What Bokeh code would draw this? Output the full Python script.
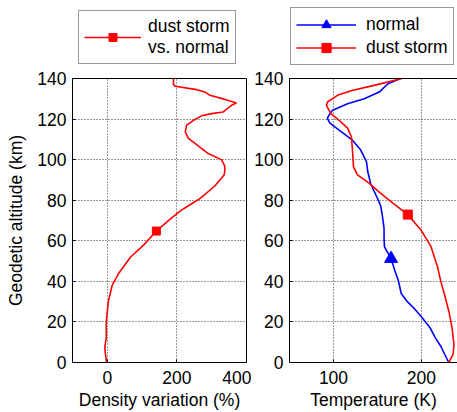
from bokeh.plotting import figure
from bokeh.models import Range1d, Legend, LegendItem, LinearAxis, FixedTicker, Label
from bokeh.layouts import row, column
from bokeh.embed import file_html
from bokeh.resources import INLINE

# ---------------- data ----------------
# left panel: density variation (dust storm vs. normal), % vs altitude (km)
alt_dv = [0, 5, 8, 12, 20, 30, 38, 44, 52, 58, 64.8, 71, 75, 78, 81, 87, 92.5, 95, 97, 100,
          103, 108, 110.5, 113.7, 117, 119.4, 121.6, 122.7, 123.5, 126.8, 127.9, 129.7,
          131.7, 133.3, 134.5, 136.2, 137, 140]
dens_var = [-2, -6, -7, -3, -3, 3, 14, 33, 67, 105, 141, 183, 212, 240, 268, 309, 336, 338, 337, 328,
            290, 252, 233, 224, 228, 248, 271, 300, 333, 357, 371, 338,
            295, 281, 257, 195, 190, 190]
dv_marker_alt = [64.8]
dv_marker_val = [141]

# right panel: temperature (K) vs altitude (km)
alt_normal = [0, 8, 12, 17, 23, 27, 30, 34, 40, 45, 51.2, 57, 61, 66, 72, 77, 80, 88, 94, 99,
              104.7, 109.6, 114.5, 118, 120.3, 122, 124.4, 127.6, 130, 133.3, 137.4, 140]
temp_normal = [231, 222, 216, 210, 199, 191, 184, 177, 174, 170, 165.5, 158, 157.5, 157.5, 155.7,
               153.8, 151, 142.4, 139, 137.5, 131, 121.6, 106.4, 96, 93, 95, 99, 116, 135, 152, 162, 176]
normal_marker_alt = [51.2]
normal_marker_temp = [165.5]

alt_dust = [0, 4, 8.5, 16.6, 24.8, 33, 40, 47.6, 57.4, 65.6, 72.9, 79.4, 84, 88.4, 92.5, 96.6,
            104.7, 111.3, 115.5, 119.4, 122.7, 126.8, 128.4, 131.7, 134, 136.6, 140]
temp_dust = [231, 236, 237, 235, 231.4, 226.5, 222, 218, 210.6, 199, 184.5, 165, 152, 140.5, 127.3,
             122.7, 121.6, 120.4, 116, 106.4, 97, 92, 93.2, 104.5, 120, 146, 178]
dust_marker_alt = [72.9]
dust_marker_temp = [184.5]

alt_ticks = [0, 20, 40, 60, 80, 100, 120, 140]
dv_ticks = [0, 200, 400]
temp_ticks = [100, 200]

legend_left_label = "dust storm\nvs. normal"
legend_right_labels = ["normal", "dust storm"]

# ---------------- layout constants ----------------
FONT = "Liberation Sans"
FS = "17.5px"
HL = 66            # height of the legend strip
H = 412 - HL       # height of the plot row
W1, W2 = 251, 206
B1L, B1R = 72, 5
B2L, B2R = 38, 0
BT, BB = 12, 48
DV_RANGE = (-100, 400)
T_RANGE = (50, 241)
ALT_RANGE = (0, 140)
TICK_STANDOFF = 8


def style_axis(ax, ticks):
    ax.ticker = FixedTicker(ticks=ticks)
    ax.axis_line_color = "black"
    ax.axis_line_width = 1
    ax.major_tick_in = 3
    ax.major_tick_out = 0
    ax.minor_tick_in = 0
    ax.minor_tick_out = 0
    ax.major_tick_line_color = "black"
    ax.major_label_text_font = FONT
    ax.major_label_text_font_size = FS
    ax.major_label_text_color = "black"
    ax.major_label_standoff = 6
    ax.axis_label_text_font = FONT
    ax.axis_label_text_font_size = FS
    ax.axis_label_text_font_style = "normal"
    ax.axis_label_text_color = "black"


def style_grid(p):
    for g in (p.xgrid[0], p.ygrid[0]):
        g.grid_line_color = "#333333"
        g.grid_line_dash = "1 2"
        g.grid_line_width = 1


def style_legend(leg):
    leg.label_text_font = FONT
    leg.label_text_font_size = FS
    leg.label_text_color = "black"
    leg.border_line_color = "#333333"
    leg.border_line_width = 1
    leg.background_fill_color = "white"
    leg.background_fill_alpha = 1
    leg.margin = 0
    leg.spacing = 0


def legend_strip(width):
    # empty strip whose ranges exclude all data: only its legend is visible
    f = figure(width=width, height=HL, x_range=Range1d(-1e4, -9e3), y_range=Range1d(-1e4, -9e3),
               x_axis_type=None, y_axis_type=None, output_backend="svg", toolbar_location=None,
               min_border=0, min_border_left=0, min_border_right=0, min_border_top=0,
               min_border_bottom=0)
    f.outline_line_color = None
    f.xgrid.visible = False
    f.ygrid.visible = False
    return f


# ---------------- left panel ----------------
p1 = figure(width=W1, height=H, x_range=Range1d(*DV_RANGE), y_range=Range1d(*ALT_RANGE),
            output_backend="svg", toolbar_location=None,
            min_border_left=B1L, min_border_right=B1R, min_border_top=BT, min_border_bottom=BB)
p1.outline_line_color = "black"
p1.outline_line_width = 1
p1.background_fill_color = "white"
style_axis(p1.xaxis[0], dv_ticks)
style_axis(p1.yaxis[0], alt_ticks)
p1.xaxis[0].major_label_standoff = TICK_STANDOFF
p1.xaxis[0].axis_label = "Density variation (%)"
p1.yaxis[0].axis_label = "Geodetic altitude (km)"
p1.xaxis[0].axis_label_standoff = 3
p1.yaxis[0].axis_label_standoff = 8
style_grid(p1)

p1.line(dens_var, alt_dv, line_color="#ff0000", line_width=1.6)
p1.scatter(dv_marker_val, dv_marker_alt, marker="square", size=8,
           fill_color="#ff0000", line_color="#ff0000")

# legend strip above the left panel (same series, outside the strip's visible ranges)
s1 = legend_strip(W1)
k1l = s1.line(dens_var, alt_dv, line_color="#ff0000", line_width=1.6)
k1m = s1.scatter(dv_marker_val, dv_marker_alt, marker="square", size=8,
                 fill_color="#ff0000", line_color="#ff0000")
leg1 = Legend(items=[LegendItem(label=legend_left_label, renderers=[k1l, k1m])],
              location=(78, 2))
style_legend(leg1)
leg1.glyph_width = 57
leg1.glyph_height = 20
leg1.label_standoff = 7
leg1.padding = 5
s1.add_layout(leg1)

# ---------------- right panel ----------------
p2 = figure(width=W2, height=H, x_range=Range1d(*T_RANGE), y_range=Range1d(*ALT_RANGE),
            output_backend="svg", toolbar_location=None,
            min_border_left=B2L, min_border_right=B2R, min_border_top=BT, min_border_bottom=BB)
p2.outline_line_color = None
p2.background_fill_color = "white"
style_axis(p2.xaxis[0], temp_ticks)
style_axis(p2.yaxis[0], alt_ticks)
p2.xaxis[0].major_label_standoff = TICK_STANDOFF
p2.xaxis[0].axis_label = "Temperature (K)"
p2.xaxis[0].axis_label_standoff = 3
top_ax = LinearAxis(ticker=FixedTicker(ticks=[]), axis_line_color="black",
                    major_tick_in=0, major_tick_out=0, minor_tick_in=0, minor_tick_out=0,
                    major_label_text_font_size="0px")
p2.add_layout(top_ax, "above")
style_grid(p2)

p2.line(temp_normal, alt_normal, line_color="#0000ff", line_width=1.6)
p2.scatter(normal_marker_temp, normal_marker_alt, marker="triangle", size=13,
           fill_color="#0000ff", line_color="#0000ff")
p2.line(temp_dust, alt_dust, line_color="#ff0000", line_width=1.6)
p2.scatter(dust_marker_temp, dust_marker_alt, marker="square", size=9,
           fill_color="#ff0000", line_color="#ff0000")

# legend strip above the right panel
s2 = legend_strip(W2)
k2nl = s2.line(temp_normal, alt_normal, line_color="#0000ff", line_width=1.6)
k2nm = s2.scatter(normal_marker_temp, normal_marker_alt, marker="triangle", size=13,
                  fill_color="#0000ff", line_color="#0000ff")
k2dl = s2.line(temp_dust, alt_dust, line_color="#ff0000", line_width=1.6)
k2dm = s2.scatter(dust_marker_temp, dust_marker_alt, marker="square", size=9,
                  fill_color="#ff0000", line_color="#ff0000")
leg2 = Legend(items=[LegendItem(label=legend_right_labels[0], renderers=[k2nl, k2nm]),
                     LegendItem(label=legend_right_labels[1], renderers=[k2dl, k2dm])],
              location=(39, 1))
style_legend(leg2)
leg2.glyph_width = 60
leg2.glyph_height = 23
leg2.label_standoff = 10
leg2.padding = 5
s2.add_layout(leg2)

# the "400" tick label of the left panel straddles both canvases: draw its right part here
f1_frame_right = B1L + (W1 - B1L - B1R)
f2_frame_left = W1 + B2L
f2_frame_w = W2 - B2L - B2R
x400 = T_RANGE[0] - (f2_frame_left - f1_frame_right) * (T_RANGE[1] - T_RANGE[0]) / f2_frame_w
p2.add_layout(Label(x=x400, y=ALT_RANGE[0], text=str(dv_ticks[-1]), text_align="center",
                    text_baseline="top", y_offset=-TICK_STANDOFF, text_font=FONT,
                    text_font_size=FS, text_color="black"))

layout = column(row(s1, s2), row(p1, p2))
open("out.html", "w").write(file_html(layout, INLINE))
